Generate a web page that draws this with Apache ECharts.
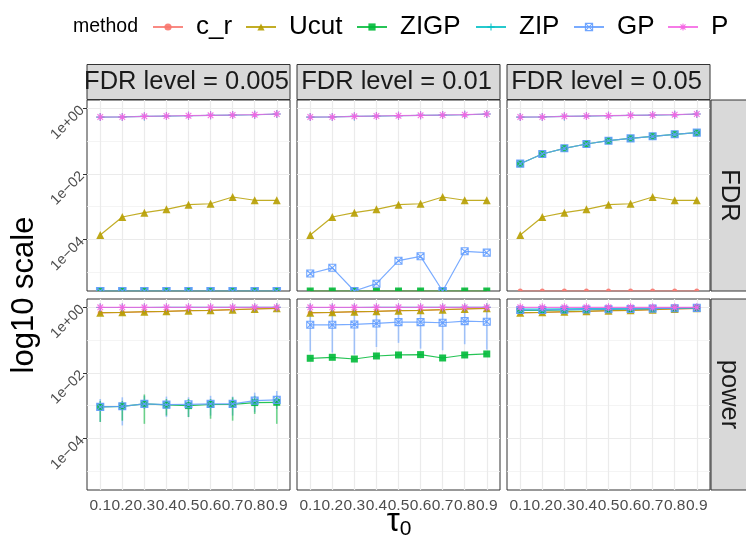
<!DOCTYPE html>
<html><head><meta charset="utf-8">
<script src="https://cdn.jsdelivr.net/npm/echarts@6/dist/echarts.min.js"></script>
<style>html,body{margin:0;padding:0;background:#fff}#c{width:746px;height:544px}</style>
</head><body><div id="c"></div>
<script>
// ---------- data ----------
const tauValues = [0.1, 0.2, 0.3, 0.4, 0.5, 0.6, 0.7, 0.8, 0.9];
const tauLabels = ['0.1', '0.2', '0.3', '0.4', '0.5', '0.6', '0.7', '0.8', '0.9'];
const methods = ['c_r', 'Ucut', 'ZIGP', 'ZIP', 'GP', 'P'];
const methodColors = ['#F8766D', '#B79F00', '#00BA38', '#00BFC4', '#619CFF', '#F564E3'];
const fdrLevelLabels = ['FDR level = 0.005', 'FDR level = 0.01', 'FDR level = 0.05'];
const rowLabels = ['FDR', 'power'];
const yTickExp = [-4, -2, 0];
const yTickLabels = ['1e\u221204', '1e\u221202', '1e+00'];
const yMinorExp = [-5, -3, -1];

// FDR row (0 = no false discovery, drawn at the panel floor)
const fdr005_c_r  = [0, 0, 0, 0, 0, 0, 0, 0, 0];
const fdr005_Ucut = [1.37e-4, 4.85e-4, 6.56e-4, 8.33e-4, 1.15e-3, 1.23e-3, 1.98e-3, 1.57e-3, 1.57e-3];
const fdr005_ZIGP = [0, 0, 0, 0, 0, 0, 0, 0, 0];
const fdr005_ZIP  = [0.540, 0.545, 0.567, 0.580, 0.592, 0.610, 0.622, 0.636, 0.668];
const fdr005_GP   = [0, 0, 0, 0, 0, 0, 0, 0, 0];
const fdr005_P    = [0.543, 0.543, 0.570, 0.582, 0.594, 0.612, 0.625, 0.638, 0.670];

const fdr01_c_r  = [0, 0, 0, 0, 0, 0, 0, 0, 0];
const fdr01_Ucut = [1.37e-4, 4.85e-4, 6.56e-4, 8.33e-4, 1.15e-3, 1.23e-3, 1.98e-3, 1.57e-3, 1.57e-3];
const fdr01_ZIGP = [0, 0, 0, 0, 0, 0, 0, 0, 0];
const fdr01_ZIP  = [0.540, 0.545, 0.567, 0.580, 0.592, 0.610, 0.622, 0.636, 0.668];
const fdr01_GP   = [9.2e-6, 1.37e-5, 0, 4.5e-6, 2.26e-5, 3.07e-5, 0, 4.37e-5, 3.98e-5];
const fdr01_P    = [0.543, 0.543, 0.570, 0.582, 0.594, 0.612, 0.625, 0.638, 0.670];

const fdr05_c_r  = [0, 0, 0, 0, 0, 0, 0, 0, 0];
const fdr05_Ucut = [1.37e-4, 4.85e-4, 6.56e-4, 8.33e-4, 1.15e-3, 1.23e-3, 1.98e-3, 1.57e-3, 1.57e-3];
const fdr05_ZIGP = [0.0205, 0.0404, 0.0603, 0.0817, 0.103, 0.121, 0.140, 0.161, 0.181];
const fdr05_ZIP  = [0.540, 0.545, 0.567, 0.580, 0.592, 0.610, 0.622, 0.636, 0.668];
const fdr05_GP   = [0.0205, 0.0404, 0.0603, 0.0817, 0.103, 0.121, 0.140, 0.161, 0.181];
const fdr05_P    = [0.543, 0.543, 0.570, 0.582, 0.594, 0.612, 0.625, 0.638, 0.670];

// power row
const pow005_c_r  = [0.680, 0.700, 0.730, 0.750, 0.788, 0.808, 0.845, 0.887, 0.930];
const pow005_Ucut = [0.684, 0.703, 0.734, 0.753, 0.790, 0.810, 0.847, 0.889, 0.931];
const pow005_ZIGP = [9.18e-4, 9.59e-4, 1.135e-3, 1.06e-3, 1.007e-3, 1.089e-3, 1.104e-3, 1.245e-3, 1.271e-3];
const pow005_ZIP  = [0.985, 0.985, 0.987, 0.988, 0.989, 0.990, 0.991, 0.993, 0.995];
const pow005_GP   = [9.18e-4, 9.59e-4, 1.135e-3, 1.081e-3, 1.104e-3, 1.135e-3, 1.135e-3, 1.432e-3, 1.507e-3];
const pow005_P    = [1.0, 1.0, 1.0, 1.0, 1.0, 1.0, 1.0, 1.0, 1.0];

const pow01_c_r  = [0.680, 0.700, 0.730, 0.750, 0.788, 0.808, 0.845, 0.887, 0.930];
const pow01_Ucut = [0.684, 0.703, 0.734, 0.753, 0.790, 0.810, 0.847, 0.889, 0.931];
const pow01_ZIGP = [0.0279, 0.0299, 0.0265, 0.0328, 0.0352, 0.0361, 0.0285, 0.0352, 0.0378];
const pow01_ZIP  = [0.985, 0.985, 0.987, 0.988, 0.989, 0.990, 0.991, 0.993, 0.995];
const pow01_GP   = [0.293, 0.293, 0.300, 0.322, 0.354, 0.354, 0.338, 0.380, 0.363];
const pow01_P    = [1.0, 1.0, 1.0, 1.0, 1.0, 1.0, 1.0, 1.0, 1.0];

const pow05_c_r  = [0.680, 0.700, 0.730, 0.750, 0.788, 0.808, 0.845, 0.887, 0.930];
const pow05_Ucut = [0.684, 0.703, 0.734, 0.753, 0.790, 0.810, 0.847, 0.889, 0.931];
const pow05_ZIGP = [0.800, 0.810, 0.830, 0.850, 0.870, 0.885, 0.905, 0.935, 0.955];
const pow05_ZIP  = [0.880, 0.885, 0.895, 0.905, 0.915, 0.930, 0.945, 0.960, 0.975];
const pow05_GP   = [0.826, 0.830, 0.845, 0.860, 0.875, 0.890, 0.910, 0.940, 0.960];
const pow05_P    = [1.0, 1.0, 1.0, 1.0, 1.0, 1.0, 1.0, 1.0, 1.0];

// error bars (power row): lower / upper
const pow005_GP_lo   = [3.2e-4, 2.5e-4, 7.9e-4, 4.5e-4, 4.5e-4, 5.0e-4, 5.0e-4, 6.3e-4, 7.9e-4];
const pow005_GP_hi   = [1.6e-3, 1.8e-3, 2.0e-3, 1.9e-3, 1.8e-3, 2.0e-3, 1.9e-3, 2.5e-3, 2.8e-3];
const pow005_ZIGP_lo = [3.2e-4, 3.5e-4, 2.8e-4, 5.0e-4, 4.5e-4, 4.0e-4, 3.5e-4, 5.6e-4, 2.8e-4];
const pow005_ZIGP_hi = [1.4e-3, 1.4e-3, 2.2e-3, 1.6e-3, 1.6e-3, 1.6e-3, 1.8e-3, 2.0e-3, 2.0e-3];
const pow01_GP_lo    = [0.0457, 0.0417, 0.0363, 0.0617, 0.0822, 0.055, 0.049, 0.0748, 0.0513];
const pow01_GP_hi    = [1.17, 1.17, 1.17, 1.17, 1.17, 1.17, 1.17, 1.17, 1.17];

// ---------- assembly ----------
const panels = [
  [
    {c_r: fdr005_c_r, Ucut: fdr005_Ucut, ZIGP: fdr005_ZIGP, ZIP: fdr005_ZIP, GP: fdr005_GP, P: fdr005_P},
    {c_r: fdr01_c_r, Ucut: fdr01_Ucut, ZIGP: fdr01_ZIGP, ZIP: fdr01_ZIP, GP: fdr01_GP, P: fdr01_P},
    {c_r: fdr05_c_r, Ucut: fdr05_Ucut, ZIGP: fdr05_ZIGP, ZIP: fdr05_ZIP, GP: fdr05_GP, P: fdr05_P}
  ],
  [
    {c_r: pow005_c_r, Ucut: pow005_Ucut, ZIGP: pow005_ZIGP, ZIP: pow005_ZIP, GP: pow005_GP, P: pow005_P},
    {c_r: pow01_c_r, Ucut: pow01_Ucut, ZIGP: pow01_ZIGP, ZIP: pow01_ZIP, GP: pow01_GP, P: pow01_P},
    {c_r: pow05_c_r, Ucut: pow05_Ucut, ZIGP: pow05_ZIGP, ZIP: pow05_ZIP, GP: pow05_GP, P: pow05_P}
  ]
];
const errorBars = [
  {row: 1, col: 0, method: 'GP', lo: pow005_GP_lo, hi: pow005_GP_hi},
  {row: 1, col: 0, method: 'ZIGP', lo: pow005_ZIGP_lo, hi: pow005_ZIGP_hi},
  {row: 1, col: 1, method: 'GP', lo: pow01_GP_lo, hi: pow01_GP_hi}
];

const FONT = '"Liberation Sans", Arial, Helvetica, sans-serif';
const Y_MIN = -5.57, Y_MAX = 0.253;
const colLeft = [87, 297, 507], colW = 203;
const rowTop = [100, 299], rowH = 191;

const marker = {
  c_r:  {symbol: 'circle', size: 5, fill: true},
  Ucut: {symbol: 'triangle', size: 8, fill: true},
  ZIGP: {symbol: 'rect', size: 7, fill: true},
  ZIP:  {symbol: 'path://M0,5H10M5,0V10', size: 8, fill: false},
  GP:   {symbol: 'path://M0,0H10V10H0ZM0,0L10,10M10,0L0,10', size: 7, fill: false},
  P:    {symbol: 'path://M0,5H10M5,0V10M1.5,1.5L8.5,8.5M8.5,1.5L1.5,8.5', size: 8, fill: false}
};
const halfMarker = {
  c_r:  'path://M0,5A5,5,0,0,1,10,5Z',
  Ucut: 'path://M5,0L10,10L0,10Z',
  ZIGP: 'path://M0,0H10V5H0Z',
  ZIP:  'path://M0,5H10M5,0V5',
  GP:   'path://M0,5V0H10V5M0,0L5,5L10,0',
  P:    'path://M0,5H10M5,0V5M1.5,1.5L5,5L8.5,1.5'
};

const grids = [], xAxes = [], yAxes = [], series = [];
for (let r = 0; r < 2; r++) {
  for (let c = 0; c < 3; c++) {
    const k = r * 3 + c;
    grids.push({left: colLeft[c], top: rowTop[r], width: colW, height: rowH, show: true,
      borderColor: '#333333', borderWidth: 1, backgroundColor: '#ffffff'});
    xAxes.push({gridIndex: k, type: 'value', min: 0.04, max: 0.96,
      axisLine: {show: false},
      axisTick: {show: r === 1, customValues: tauValues, length: 4, lineStyle: {color: '#333333', width: 1}},
      axisLabel: {show: r === 1, customValues: tauValues, margin: 8, fontSize: 15.5, color: '#4D4D4D', fontFamily: FONT,
        formatter: v => tauLabels[Math.round(v * 10) - 1]},
      splitLine: {show: true, lineStyle: {color: '#EBEBEB', width: 1.2}}
    });
  }
}
for (let k = 0; k < 6; k++) {
  const c = k % 3;
  yAxes.push({gridIndex: k, type: 'value', min: Y_MIN, max: Y_MAX,
    axisLine: {show: false},
    axisTick: {show: c === 0, customValues: yTickExp, length: 4, lineStyle: {color: '#333333', width: 1}},
    axisLabel: {show: c === 0, customValues: yTickExp, rotate: 45, margin: 5, fontSize: 14.5, color: '#4D4D4D', fontFamily: FONT,
      formatter: v => yTickLabels[yTickExp.indexOf(Math.round(v))]},
    splitLine: {show: true, lineStyle: {color: '#EBEBEB', width: 1.2}}
  });
}
for (let k = 0; k < 6; k++) {
  yAxes.push({gridIndex: k, type: 'value', min: Y_MIN, max: Y_MAX, position: 'left',
    axisLine: {show: false},
    axisTick: {show: false, customValues: yMinorExp},
    axisLabel: {show: false, customValues: yMinorExp},
    splitLine: {show: true, lineStyle: {color: '#F1F1F1', width: 0.8}}
  });
}

// error bars first (underneath)
errorBars.forEach(eb => {
  const k = eb.row * 3 + eb.col;
  const col = methodColors[methods.indexOf(eb.method)];
  series.push({
    type: 'custom', name: eb.method + ' error', xAxisIndex: k, yAxisIndex: k, clip: true, silent: true, z: 1,
    data: tauValues.map((t, i) => [t, Math.log10(eb.lo[i]), Math.log10(eb.hi[i])]),
    renderItem: (params, api) => {
      const a = api.coord([api.value(0), api.value(1)]);
      const b = api.coord([api.value(0), api.value(2)]);
      return {type: 'line', shape: {x1: a[0], y1: a[1], x2: b[0], y2: b[1]},
        style: {stroke: col, lineWidth: 1.6, opacity: 0.55}};
    }
  });
});

for (let r = 0; r < 2; r++) {
  for (let c = 0; c < 3; c++) {
    const k = r * 3 + c;
    methods.forEach((m, mi) => {
      const col = methodColors[mi];
      const mk = marker[m];
      const vals = panels[r][c][m];
      series.push({
        type: 'line', name: m, xAxisIndex: k, yAxisIndex: k, clip: true, z: 2 + mi,
        symbol: mk.symbol, symbolSize: mk.size, showSymbol: true, showAllSymbol: true,
        itemStyle: mk.fill ? {color: col, opacity: 0.9} : {color: 'transparent', borderColor: col, borderWidth: 1.1, opacity: 0.9},
        lineStyle: {color: col, width: 1.2, opacity: 0.85},
        emphasis: {disabled: true},
        data: vals.map((v, i) => v > 0 ? [tauValues[i], Math.log10(v)] : {
          value: [tauValues[i], Y_MIN], symbol: halfMarker[m],
          symbolSize: [mk.size, mk.size / 2], symbolOffset: [0, '-50%']
        })
      });
    });
  }
}

// legend: one component per key, positioned like the original
const legendKeyLeft = [152, 245, 356, 475, 573, 667];
const legends = methods.map((m, i) => ({
  data: [m], left: legendKeyLeft[i], top: 14, padding: 0, itemWidth: 30, itemHeight: 9,
  selectedMode: false,
  itemStyle: {borderWidth: 1.1},
  lineStyle: {width: 2},
  textStyle: {fontSize: 26, color: '#000000', fontFamily: FONT, padding: [0, 0, 0, 8]}
}));

const graphics = [];
for (let c = 0; c < 3; c++) {
  graphics.push({type: 'rect', shape: {x: colLeft[c], y: 64.5, width: colW, height: 35},
    style: {fill: '#D9D9D9', stroke: '#333333', lineWidth: 1}, silent: true});
  graphics.push({type: 'text', x: colLeft[c] + colW / 2 - 2, y: 81.5, silent: true,
    style: {text: fdrLevelLabels[c], align: 'center', verticalAlign: 'middle', fontSize: 25.5,
      fill: '#1A1A1A', fontFamily: FONT}});
}
for (let r = 0; r < 2; r++) {
  graphics.push({type: 'rect', shape: {x: 711, y: rowTop[r], width: 40, height: rowH},
    style: {fill: '#D9D9D9', stroke: '#333333', lineWidth: 1}, silent: true});
  graphics.push({type: 'text', x: 729, y: rowTop[r] + rowH / 2, rotation: -Math.PI / 2, silent: true,
    style: {text: rowLabels[r], align: 'center', verticalAlign: 'middle', fontSize: 25.5,
      fill: '#1A1A1A', fontFamily: FONT}});
}
graphics.push({type: 'text', x: 24, y: 295, rotation: Math.PI / 2, silent: true,
  style: {text: 'log10 scale', align: 'center', verticalAlign: 'middle', fontSize: 31, fill: '#000000', fontFamily: FONT}});
graphics.push({type: 'text', x: 399, y: 522, silent: true,
  style: {text: '{t|\u03C4}{s|0}', align: 'center', verticalAlign: 'middle', fontFamily: FONT,
    rich: {t: {fontSize: 33, fill: '#000000', fontFamily: FONT, lineHeight: 36},
           s: {fontSize: 21, fill: '#000000', fontFamily: FONT, lineHeight: 36, verticalAlign: 'bottom', padding: [12, 0, 0, 0]}}}});
graphics.push({type: 'text', x: 73, y: 27, silent: true,
  style: {text: 'method', align: 'left', verticalAlign: 'middle', fontSize: 19.5, fill: '#000000', fontFamily: FONT}});

const chart = echarts.init(document.getElementById('c'), null, {renderer: 'canvas', width: 746, height: 544});
chart.setOption({
  animation: false,
  backgroundColor: '#ffffff',
  textStyle: {fontFamily: FONT},
  grid: grids, xAxis: xAxes, yAxis: yAxes,
  legend: legends,
  series: series,
  graphic: graphics
});
</script></body></html>
